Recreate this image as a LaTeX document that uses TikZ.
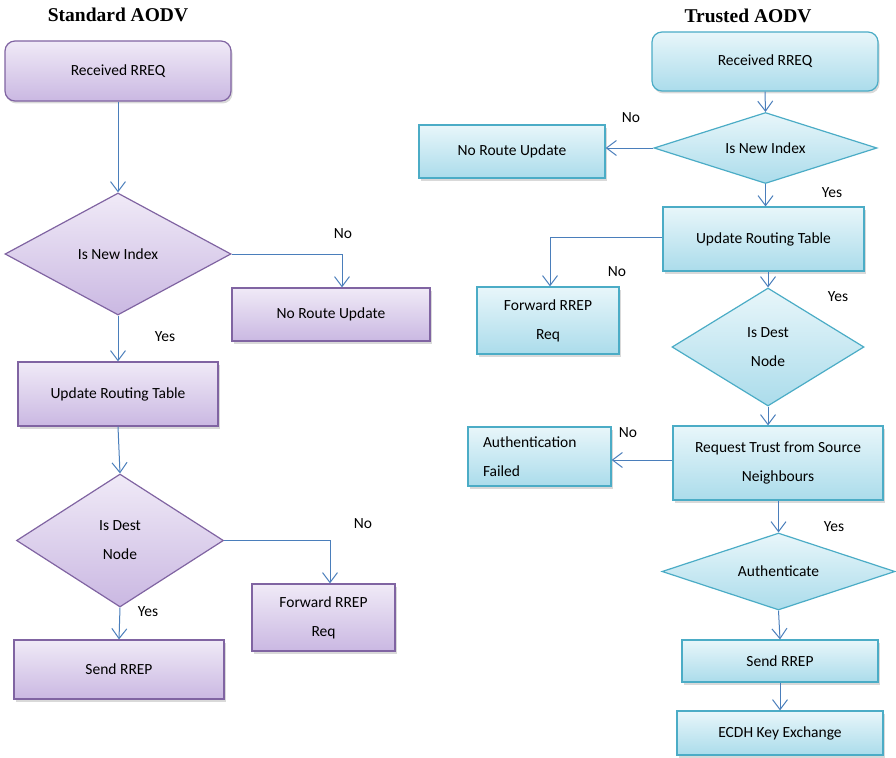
\documentclass[tikz,border=0pt]{standalone}
\usepackage{fontspec}
\setmainfont{Carlito}
\newfontfamily\titlefont{Liberation Serif}
\usetikzlibrary{arrows.meta,shapes.geometric,shadows}
\definecolor{pborder}{HTML}{8064A2}
\definecolor{ptop}{HTML}{F0EAF7}
\definecolor{pbot}{HTML}{CAB8E2}
\definecolor{bborder}{HTML}{4BACC6}
\definecolor{btop}{HTML}{E8F6FA}
\definecolor{bbot}{HTML}{ABDCEB}
\definecolor{arrowc}{HTML}{4A7EBB}
\begin{document}
\begin{tikzpicture}[x=1pt,y=-1pt,
  base/.style={font=\fontsize{15.5}{29}\selectfont, align=center, inner sep=0pt, line width=1.2pt},
  shad/.style={drop shadow={shadow xshift=1.5pt,shadow yshift=-2.5pt,opacity=0.3}},
  pbox/.style={base, rectangle, draw=pborder, top color=ptop, bottom color=pbot, shad},
  prbox/.style={pbox, rounded corners=10pt},
  pdia/.style={base, diamond, draw=pborder, top color=ptop, bottom color=pbot},
  bbox/.style={base, rectangle, draw=bborder, top color=btop, bottom color=bbot, shad},
  brbox/.style={bbox, rounded corners=10pt},
  bdia/.style={base, diamond, draw=bborder, top color=btop, bottom color=bbot},
  lbl/.style={font=\fontsize{15.5}{18}\selectfont, inner sep=0pt},
  ttl/.style={font=\titlefont\bfseries\fontsize{19.5}{22}\selectfont, inner sep=0pt},
  arr/.style={draw=arrowc, line width=1pt, -{Straight Barb[length=10pt,width=15pt]}}
]
\useasboundingbox (0,0) rectangle (896,757);

% titles
\node[ttl] (t1) at (118,15) {Standard AODV};
\node[ttl] (t2) at (748,16) {Trusted AODV};

% left flow
\node[prbox, minimum width=226pt, minimum height=60pt] (l1) at (118,71) {Received RREQ};
\node[pdia, aspect=1.85, minimum width=226pt, minimum height=122pt] (l2) at (118,254) {Is New Index};
\node[pbox, minimum width=198pt, minimum height=53pt] (l3) at (331,314.5) {No Route Update};
\node[pbox, minimum width=200pt, minimum height=64pt] (l4) at (118,394) {Update Routing Table};
\node[pdia, aspect=1.55, minimum width=207pt, minimum height=133pt] (l5) at (120,540.5) {Is Dest\\Node};
\node[pbox, minimum width=143pt, minimum height=67pt] (l6) at (323.5,617.5) {Forward RREP\\Req};
\node[pbox, minimum width=210pt, minimum height=59pt] (l7) at (119,669.5) {Send RREP};

\draw[arr] (l1.south) -- (l2.north);
\draw[arr] (l2.east) -| ([xshift=11pt]l3.north);
\draw[arr] (l2.south) -- (l4.north);
\draw[arr] (l4.south) -- (l5.north);
\draw[arr] (l5.east) -| ([xshift=6.5pt]l6.north);
\draw[arr] (l5.south) -- (l7.north);

\node[lbl] (n1) at (343,234) {No};
\node[lbl] (y1) at (165,337) {Yes};
\node[lbl] (n2) at (363,524) {No};
\node[lbl] (y2) at (148,612) {Yes};

% right flow
\node[brbox, minimum width=226pt, minimum height=59pt] (r1) at (765,61.5) {Received RREQ};
\node[bdia, aspect=3.1, minimum width=223pt, minimum height=71pt] (r2) at (765.5,148) {Is New Index};
\node[bbox, minimum width=186pt, minimum height=53pt] (r3) at (512,151.5) {No Route Update};
\node[bbox, minimum width=201pt, minimum height=64pt] (r4) at (763.5,239) {Update Routing Table};
\node[bbox, minimum width=142pt, minimum height=67pt] (r5) at (548,320.5) {Forward RREP\\Req};
\node[bdia, aspect=1.63, minimum width=192pt, minimum height=118pt] (r6) at (768,347) {Is Dest\\Node};
\node[bbox, minimum width=210pt, minimum height=74pt] (r7) at (778,463) {Request Trust from Source\\Neighbours};
\node[bbox, text width=113pt, inner xsep=15pt, align=left, minimum height=59pt] (r8) at (539.5,456.5) {Authentication\\Failed};
\node[bdia, aspect=3, minimum width=233pt, minimum height=77pt] (r9) at (778.5,571.5) {Authenticate};
\node[bbox, minimum width=196pt, minimum height=42pt] (r10) at (780,661) {Send RREP};
\node[bbox, minimum width=206pt, minimum height=44pt] (r11) at (780,733) {ECDH Key Exchange};

\draw[arr] (r1.south) -- (r2.north);
\draw[arr] (r2.west) -- (r2.west -| r3.east);
\draw[arr] (r2.south) -- (r2.south |- r4.north);
\draw[arr] ([yshift=2pt]r4.west) -| ([xshift=2pt]r5.north);
\draw[arr] (r6.north |- r4.south) -- (r6.north);
\draw[arr] (r6.south) -- (r6.south |- r7.north);
\coordinate (c1) at ([yshift=3pt]r7.west);
\draw[arr] (c1) -- (c1 -| r8.east);
\draw[arr] (r9.north |- r7.south) -- (r9.north);
\draw[arr] (r9.south) -- (r10.north);
\draw[arr] (r10.south) -- (r11.north);

\node[lbl] (n3) at (631,118) {No};
\node[lbl] (y3) at (832,193) {Yes};
\node[lbl] (n4) at (617,272) {No};
\node[lbl] (y4) at (838,297) {Yes};
\node[lbl] (n5) at (628,433) {No};
\node[lbl] (y5) at (834,527) {Yes};
\end{tikzpicture}
\end{document}
